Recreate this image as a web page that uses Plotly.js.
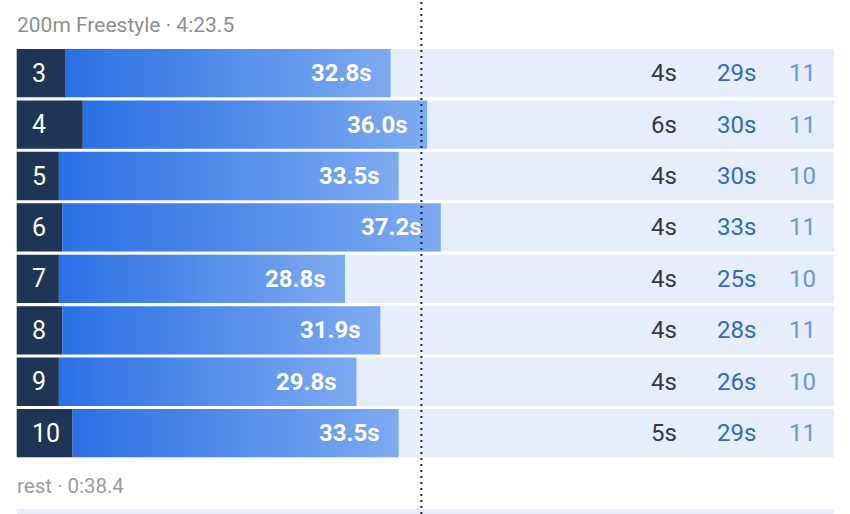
<!DOCTYPE html>
<html>
<head>
<meta charset="utf-8">
<script src="https://cdn.plot.ly/plotly-3.0.1.min.js"></script>
<style>html,body{margin:0;padding:0;background:#fff;}#chart{width:850px;height:514px;}</style>
</head>
<body>
<div id="chart"></div>
<script>
// ---- data ----
const lapLabels   = ['3','4','5','6','7','8','9','10'];
const splitTimes  = [32.8, 36.0, 33.5, 37.2, 28.8, 31.9, 29.8, 33.5];   // total split (s)
const turnTimes   = [4.3, 5.8, 3.7, 4.0, 3.7, 4.0, 3.7, 4.9];          // dark segment (s)
const turnLabels  = ['4s','6s','4s','4s','4s','4s','4s','5s'];
const swimLabels  = ['29s','30s','30s','33s','25s','28s','26s','29s'];
const strokeCounts= ['11','11','10','11','10','11','10','11'];
const headerText  = '200m Freestyle · 4:23.5';
const restText    = 'rest · 0:38.4';
const refLine     = 35.5;
const bandMax     = 71.7;

// ---- styling ----
const NAVY = '#1e3556';
const BAND = '#e5eefa';
const BAR_W = 0.94;
const FONT = 'Roboto, "Noto Sans", sans-serif';

const rows = lapLabels.map((_, i) => i);
const traces = [];

// background bands
traces.push({
  type: 'bar', orientation: 'h', y: rows, x: rows.map(() => bandMax), base: 0,
  width: BAR_W, marker: {color: BAND, line: {width: 0}}, hoverinfo: 'skip', showlegend: false
});
// dark (turn) segments
traces.push({
  type: 'bar', orientation: 'h', y: rows, x: turnTimes, base: 0,
  width: BAR_W, marker: {color: NAVY, line: {width: 0}}, hoverinfo: 'skip', showlegend: false
});
// gradient swim segments
rows.forEach(i => {
  const a = turnTimes[i], b = splitTimes[i], h = BAR_W / 2;
  traces.push({
    type: 'scatter', mode: 'lines', fill: 'toself',
    x: [a, b, b, a, a], y: [i - h, i - h, i + h, i + h, i - h],
    line: {width: 0, color: 'rgba(0,0,0,0)'},
    fillcolor: '#4f8ae8',
    fillgradient: {type: 'horizontal', colorscale: [[0, '#2a70e4'], [1, '#7eaaf0']]},
    hoverinfo: 'skip', showlegend: false
  });
});

const annotations = [];
rows.forEach(i => {
  annotations.push({xref: 'x', yref: 'y', x: 0, y: i, xanchor: 'left', yanchor: 'middle', xshift: 13,
    text: lapLabels[i], showarrow: false, font: {family: FONT, size: 25, color: '#ffffff'}});
  annotations.push({xref: 'x', yref: 'y', x: splitTimes[i], y: i, xanchor: 'right', yanchor: 'middle', xshift: -17,
    text: '<b>' + splitTimes[i].toFixed(1) + 's</b>', showarrow: false, font: {family: FONT, size: 24, color: '#ffffff'}});
  annotations.push({xref: 'paper', yref: 'y', x: 679 / 850, y: i, xanchor: 'right', yanchor: 'middle',
    text: turnLabels[i], showarrow: false, font: {family: FONT, size: 24, color: '#36393f'}});
  annotations.push({xref: 'paper', yref: 'y', x: 758 / 850, y: i, xanchor: 'right', yanchor: 'middle',
    text: swimLabels[i], showarrow: false, font: {family: FONT, size: 24, color: '#2f6dc2'}});
  annotations.push({xref: 'paper', yref: 'y', x: 818 / 850, y: i, xanchor: 'right', yanchor: 'middle',
    text: strokeCounts[i], showarrow: false, font: {family: FONT, size: 24, color: '#6b98d6'}});
});
annotations.push({xref: 'paper', yref: 'paper', x: 15 / 850, y: 1 - 25 / 514, xanchor: 'left', yanchor: 'middle',
  text: headerText, showarrow: false, font: {family: FONT, size: 21, color: '#8f8f8f'}});
annotations.push({xref: 'paper', yref: 'paper', x: 15 / 850, y: 1 - 486 / 514, xanchor: 'left', yanchor: 'middle',
  text: restText, showarrow: false, font: {family: FONT, size: 20.5, color: '#9d9d9d'}});

const pitch = 51.43, firstCenter = 73.15, H = 514, W = 850;
const layout = {
  width: W, height: H,
  margin: {l: 0, r: 0, t: 0, b: 0, pad: 0},
  paper_bgcolor: '#ffffff', plot_bgcolor: '#ffffff',
  showlegend: false, barmode: 'overlay',
  xaxis: {range: [-16.7 / 11.4, (W - 16.7) / 11.4], visible: false, fixedrange: true},
  yaxis: {range: [(H - firstCenter) / pitch, -firstCenter / pitch], visible: false, fixedrange: true},
  shapes: [
    {type: 'rect', xref: 'x', yref: 'paper', x0: 0, x1: bandMax, y0: 0, y1: 5 / 514,
      fillcolor: BAND, line: {width: 0}, layer: 'below'},
    {type: 'line', xref: 'x', yref: 'paper', x0: refLine, x1: refLine, y0: 0, y1: 1,
      line: {color: '#1f2d3d', width: 2, dash: '2px,4px'}, layer: 'above'}
  ],
  annotations: annotations
};

Plotly.newPlot('chart', traces, layout, {displayModeBar: false, staticPlot: true});
</script>
</body>
</html>
